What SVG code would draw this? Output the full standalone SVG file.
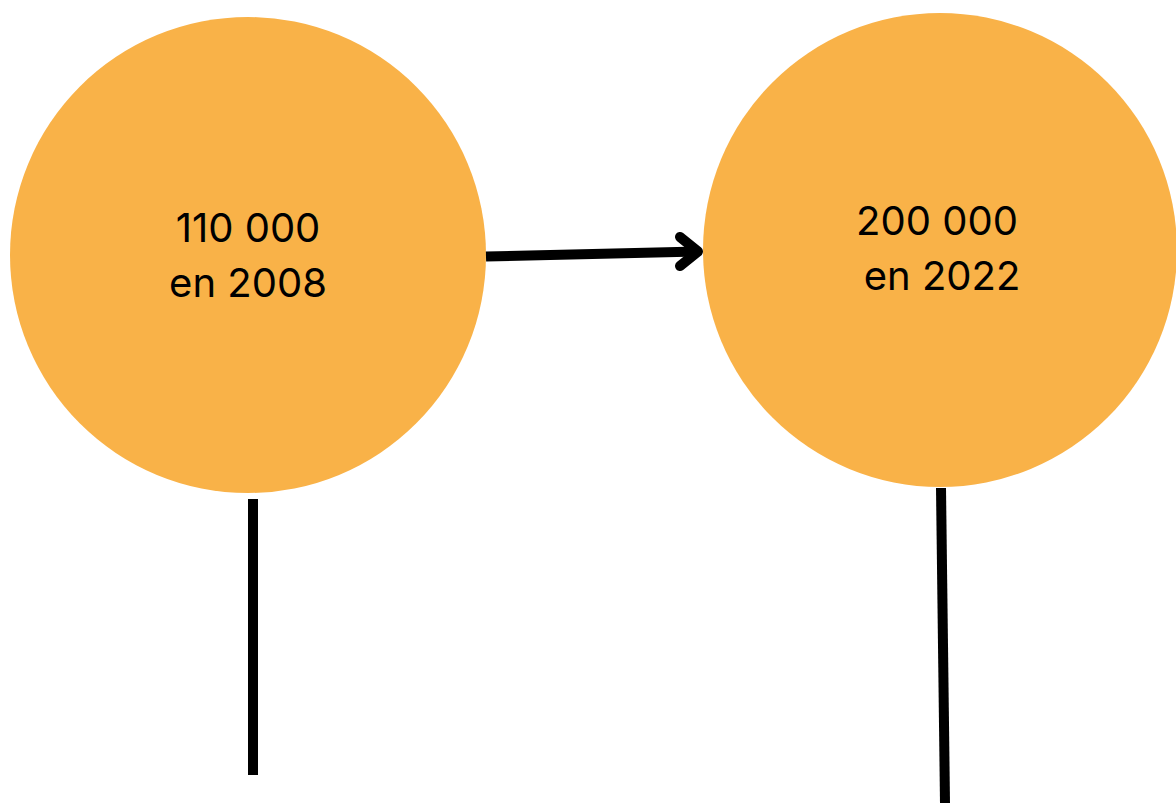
<svg xmlns="http://www.w3.org/2000/svg" width="1176" height="803" viewBox="0 0 1176 803">
<style>
.node{fill:#f9b248}
.lbl{font-family:Inter,"Liberation Sans",sans-serif;font-size:40px;fill:#000;text-anchor:middle}
.ln{stroke:#000;stroke-width:10;fill:none}
</style>
<rect width="1176" height="803" fill="#fff"/>
<g id="node1">
<circle class="node" cx="248" cy="255" r="238"/>
<text class="lbl" x="248" y="242">110 000</text>
<text class="lbl" x="248" y="297">en 2008</text>
</g>
<g id="node2">
<circle class="node" cx="940" cy="250" r="237"/>
<text class="lbl" x="937" y="235">200 000</text>
<text class="lbl" x="942" y="290">en 2022</text>
</g>
<g id="connectors">
<line class="ln" x1="486" y1="256.5" x2="698" y2="251.5"/>
<polyline class="ln" points="680,237 698,251.5 680,266" stroke-linecap="round" stroke-linejoin="round"/>
<line class="ln" x1="253" y1="499" x2="253" y2="775"/>
<line class="ln" x1="941" y1="488" x2="945" y2="803"/>
</g>
</svg>
